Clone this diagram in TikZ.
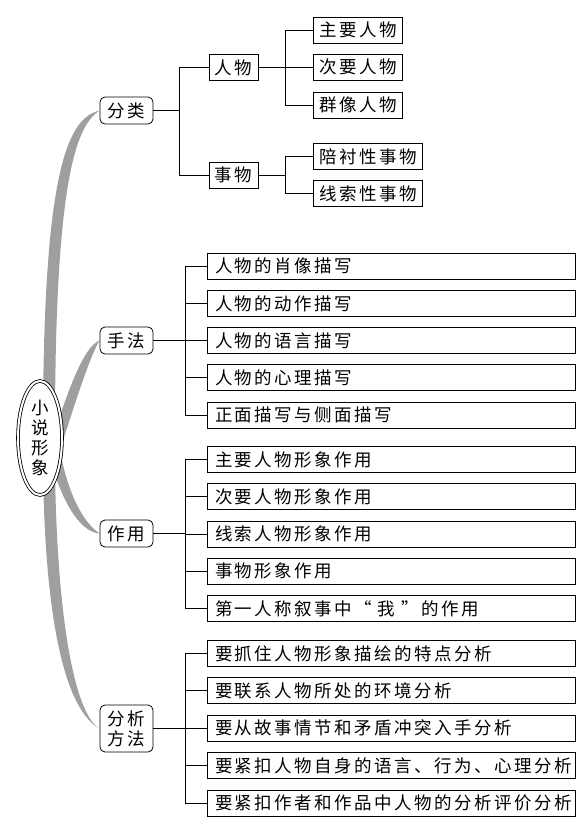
\documentclass[tikz,border=0pt]{standalone}
\usepackage{fontspec}
\newfontfamily\cjk[LetterSpace=14]{Noto Sans CJK SC}
\usetikzlibrary{shapes.geometric}
\usetikzlibrary{backgrounds}

\begin{document}
\begin{tikzpicture}
[x=1pt, y=-1pt,
every node/.style={font=\cjk\fontsize{17.5pt}{20pt}\selectfont},
root/.style ={ellipse, draw, double, double distance=2pt, line width=0.8pt,
fill=white, minimum width=44pt, minimum height=114pt, inner sep=0pt,
align=center},
cat/.style ={rectangle, draw, line width=0.8pt, fill=white, rounded corners=5pt,
minimum width=53pt, minimum height=27pt, inner sep=0pt, align=center},
sub/.style ={rectangle, draw, line width=0.8pt, minimum width=49pt,
minimum height=26pt, inner sep=0pt},
item/.style ={rectangle, draw, line width=0.8pt, anchor=west,
minimum height=26pt, inner xsep=6pt, inner ysep=0pt},
leaf/.style ={rectangle, draw, line width=0.8pt, text width=352pt, align=left,
minimum height=26pt, inner xsep=8pt, inner ysep=0pt},
band/.style ={fill=gray!75},
link/.style ={draw, line width=0.9pt}]

\useasboundingbox (0,0) rectangle (577,822);

% centre
\node (xs) [root] at (40,438) {小\\说\\形\\象};

% level 1
\node (fl) [cat] at (126.5,110.5) {分类};
\node (hf) [cat] at (126.5,340.5) {手法};
\node (zy) [cat] at (126.5,533.5) {作用};
\node (ff) [cat, minimum height=47pt] at (126.5,728.5) {分析\\方法};

% 分类
\node (rw) [sub] at (233.5,67.5) {人物};
\node (sw) [sub] at (233.5,175) {事物};
\node (rw1) [item] at (313,30) {主要人物};
\node (rw2) [item] at (313,67) {次要人物};
\node (rw3) [item] at (313,105) {群像人物};
\node (sw1) [item] at (313,156.5) {陪衬性事物};
\node (sw2) [item] at (313,193.5) {线索性事物};

% 手法
\foreach \t [count=\i] in {人物的肖像描写, 人物的动作描写, 人物的语言描写,
  人物的心理描写, 正面描写与侧面描写}
  \node (hf\i) [leaf] at (391,{229+37.2*\i}) {\t};

% 作用
\foreach \t [count=\i] in {主要人物形象作用, 次要人物形象作用, 线索人物形象作用,
  事物形象作用, 第一人称叙事中“ 我 ”的作用}
  \node (zy\i) [leaf] at (391,{422.3+37.25*\i}) {\t};

% 分析方法
\foreach \t [count=\i] in {要抓住人物形象描绘的特点分析, 要联系人物所处的环境分析,
  要从故事情节和矛盾冲突入手分析, 要紧扣人物自身的语言、行为、心理分析,
  要紧扣作者和作品中人物的分析评价分析}
  \node (ff\i) [leaf] at (391,{616+37.4*\i}) {\t};

% connectors
\draw[link] (fl.east) -- ++(26,0) |- (rw.west);
\draw[link] (fl.east) -- ++(26,0) |- (sw.west);
\foreach \n in {1,2,3}
  \draw[link] (rw.east) -- ++(27,0) |- (rw\n.west);
\foreach \n in {1,2}
  \draw[link] (sw.east) -- ++(27,0) |- (sw\n.west);
\foreach \p in {hf,zy,ff}
  \foreach \n in {1,...,5}
    \draw[link] (\p.east) -- ++(32,0) |- (\p\n.west);

% tapered branches
\begin{scope}[on background layer]
\fill[band] ([shift={(3,-8)}]xs.center) .. controls (43,160) and (70,118) .. (fl.west)
  .. controls (78,125) and (55,170) .. ([shift={(15,-8)}]xs.center) -- cycle;
\fill[band] ([shift={(12,2)}]xs.center) .. controls (68,390) and (84,346) .. (hf.west)
  .. controls (90,356) and (76,400) .. ([shift={(20,12)}]xs.center) -- cycle;
\fill[band] ([shift={(18,2)}]xs.center) .. controls (66,490) and (82,522) .. (zy.west)
  .. controls (78,532) and (58,495) .. ([shift={(8,10)}]xs.center) -- cycle;
\fill[band] ([shift={(3,32)}]xs.center) .. controls (45,620) and (65,710) .. (ff.west)
  .. controls (75,715) and (57,620) .. ([shift={(15,32)}]xs.center) -- cycle;
\end{scope}
\end{tikzpicture}
\end{document}
